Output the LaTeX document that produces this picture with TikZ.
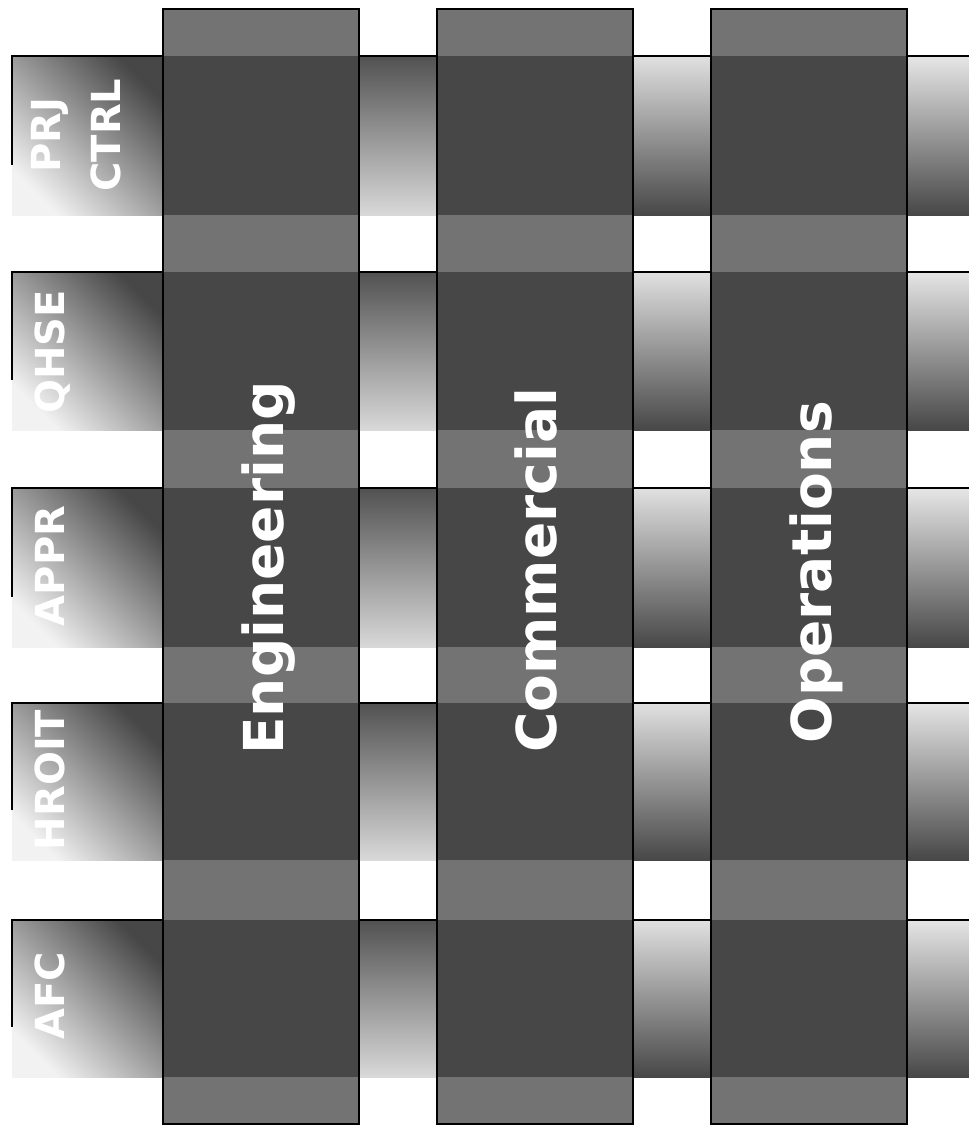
\documentclass[tikz,border=0pt]{standalone}
\usepackage{fontspec}
\setmainfont{DejaVu Sans}
\begin{document}
\begin{tikzpicture}[x=0.5pt,y=-0.5pt,
  colfill/.style={fill=black!55},
  crossfill/.style={fill=black!72},
  coledge/.style={draw=black, line width=1.1pt},
  rowedge/.style={draw=black, line width=1.1pt},
  rowlabel/.style={text=white, font=\bfseries\fontsize{20}{30}\selectfont, rotate=90, anchor=base, inner sep=0pt},
  biglabel/.style={text=white, font=\bfseries\fontsize{27.5}{33}\selectfont, rotate=90, anchor=base west, inner sep=0pt}]
\useasboundingbox (0,0) rectangle (969,1135);
\fill[white] (0,0) rectangle (969,1135);
\begin{scope}
\clip (0,0) rectangle (969,1135);
% rows (horizontal bands)
\foreach \t/\b in {56/215, 272/430, 488/647, 703/860, 920/1077}{
  \shade[top color=black!72, bottom color=black!5, shading angle=-45] (12,\t) rectangle (163,\b);
  \shade[top color=black!68, bottom color=black!15] (359,\t) rectangle (437,\b);
  \shade[top color=black!12, bottom color=black!72] (633,\t) rectangle (711,\b);
  \shade[top color=black!10, bottom color=black!72] (908,\t) rectangle (969,\b);
  \draw[rowedge] ({12},{\b-50}) -- (12,\t) -- (969,\t);
}
% columns (vertical bands)
\foreach \l in {163, 437, 711}{
  \fill[colfill] (\l,9) rectangle ({\l+196},1124);
  \foreach \t/\b in {56/215, 272/430, 488/647, 703/860, 920/1077}{
    \fill[crossfill] (\l,\t) rectangle ({\l+196},\b);
  }
  \draw[coledge] (\l,9) rectangle ({\l+196},1124);
}
\end{scope}
% row labels
\node[rowlabel, anchor=center, align=center] (prj) at (76,135) {PRJ\\CTRL};
\node[rowlabel] (qhse) at (64,352) {QHSE};
\node[rowlabel] (appr) at (64,566) {APPR};
\node[rowlabel] (hroit) at (64,780) {HROIT};
\node[rowlabel] (afc) at (64,996) {AFC};
% column labels
\node[biglabel] (eng) at (283,755) {Engineering};
\node[biglabel] (comm) at (556,753) {Commercial};
\node[biglabel] (ops) at (831,744) {Operations};
\end{tikzpicture}
\end{document}
